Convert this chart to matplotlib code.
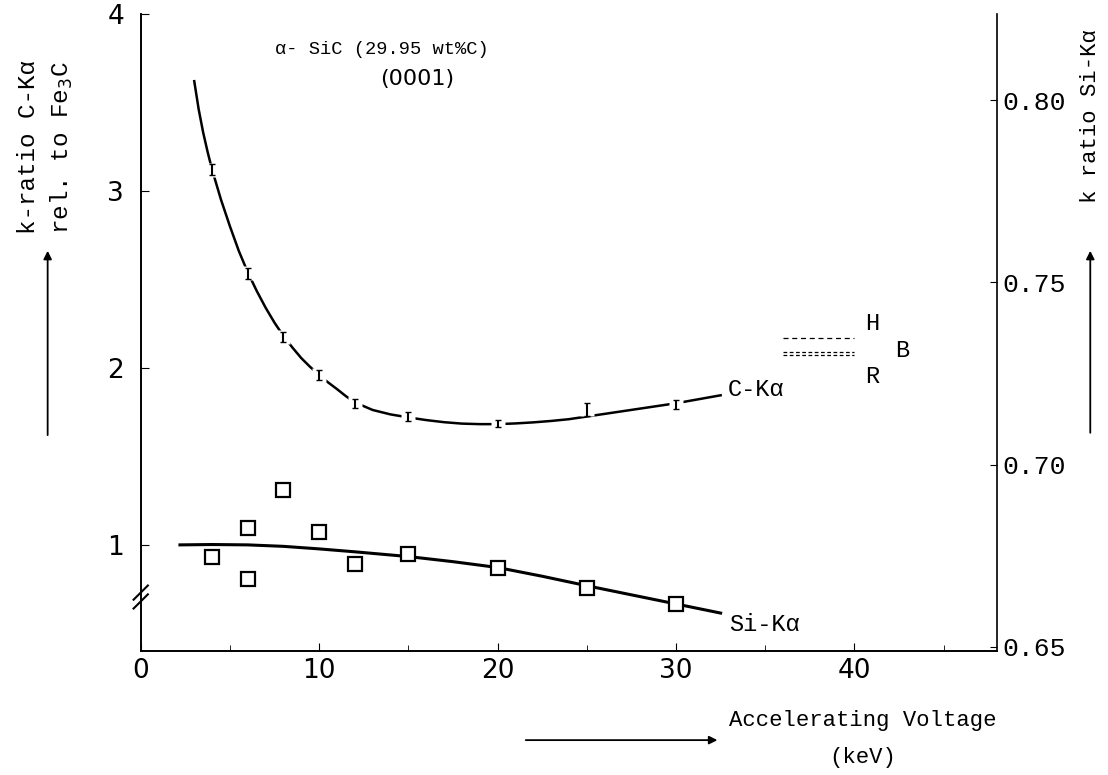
import matplotlib.pyplot as plt
import numpy as np

# C-K alpha k-ratio (left axis), measured points with error bars
c_kv = [4, 6, 8, 10, 12, 15, 20, 25, 30]
c_k = [3.12, 2.535, 2.175, 1.96, 1.80, 1.725, 1.685, 1.765, 1.795]
c_err = [0.03, 0.03, 0.03, 0.03, 0.025, 0.025, 0.02, 0.035, 0.025]

# drawn curve through C-K alpha
c_curve_kv = [3.0, 3.25, 3.5, 3.75, 4, 4.5, 5, 5.5, 6, 6.5, 7, 7.5, 8, 8.5, 9, 9.5, 10, 10.5, 11, 11.5,
              12, 13, 14, 15, 16, 17, 18, 19, 20, 21, 22, 23, 24, 25, 26, 27, 28, 29, 30, 31, 32, 32.5]
c_curve_k = [3.62, 3.46, 3.33, 3.22, 3.12, 2.95, 2.80, 2.66, 2.54, 2.435, 2.34, 2.255, 2.18, 2.115, 2.055,
             2.005, 1.96, 1.918, 1.88, 1.84, 1.805, 1.762, 1.737, 1.72, 1.705, 1.693, 1.685, 1.682, 1.682,
             1.686, 1.692, 1.70, 1.71, 1.725, 1.74, 1.755, 1.77, 1.785, 1.80, 1.818, 1.836, 1.845]

# Si-K alpha k-ratio (right axis)
si_kv = [4, 6, 6, 8, 10, 12, 15, 20, 25, 30]
si_k = [0.6747, 0.6826, 0.6686, 0.6930, 0.6815, 0.6728, 0.6755, 0.6717, 0.6662, 0.6618]
si_curve_kv = [2.2, 4, 6, 8, 10, 12, 15, 17.5, 20, 22.5, 25, 27.5, 30, 32.5]
si_curve_k = [0.6780, 0.6781, 0.6780, 0.6776, 0.6769, 0.6761, 0.6748, 0.6734, 0.6718, 0.6694, 0.6668,
              0.6643, 0.6618, 0.6593]

# H / R reference levels (left axis units)
hr_kv = [36, 40]
h_level = 2.17
r_levels = [2.09, 2.07]

mono = 'Liberation Mono'

fig = plt.figure(figsize=(11.08, 7.75), dpi=100)
ax = fig.add_axes([0.127, 0.16, 0.773, 0.822])
ax2 = ax.twinx()

ax.plot(c_curve_kv, c_curve_k, color='black', lw=1.8)
ax.plot(c_kv, c_k, 's', ms=10, mfc='white', mec='none', zorder=3)
ax.errorbar(c_kv, c_k, yerr=c_err, fmt='none', ecolor='black', elinewidth=1.5, capsize=2.5, zorder=4)

ax2.plot(si_curve_kv, si_curve_k, color='black', lw=2.2)
ax2.plot(si_kv, si_k, 's', ms=10, mfc='white', mec='black', mew=1.6, zorder=3)

for lv, ls in [(h_level, (0, (4, 3)))] + [(r, (0, (3, 2))) for r in r_levels]:
    ax.plot(hr_kv, [lv, lv], color='black', lw=0.9, ls=ls)

ax.set_xlim(0, 48)
ax.set_ylim(0.4, 4.0)
ax2.set_ylim(0.6489, 0.8236)

ax.set_xticks([0, 10, 20, 30, 40])
ax.set_xticks(np.arange(0, 48, 5), minor=True)
ax.set_yticks([1, 2, 3, 4])
ax.tick_params(axis='both', which='major', direction='in', length=6, labelsize=19)
ax.tick_params(axis='y', which='major', pad=12)
ax.tick_params(axis='x', which='major', pad=5)
ax.tick_params(axis='x', which='minor', direction='in', length=4)
ax2.set_yticks([0.65, 0.70, 0.75, 0.80])
ax2.set_yticklabels(['0.65', '0.70', '0.75', '0.80'], family=mono, fontsize=19)
ax2.tick_params(axis='y', direction='in', length=5, pad=4)

for a in (ax, ax2):
    a.spines['top'].set_visible(False)
ax.spines['right'].set_visible(False)
for a in (ax, ax2):
    for s in a.spines.values():
        s.set_linewidth(1.2)

# axis break marks
for yy in (0.68, 0.73):
    ax.plot([-0.4, 0.4], [yy - 0.04, yy + 0.04], color='black', lw=1.5, clip_on=False,
            transform=ax.transData)

ax.text(32.9, 1.88, 'C-K\u03b1', family=mono, fontsize=17, va='center')
ax.text(33.0, 0.55, 'Si-K\u03b1', family=mono, fontsize=17, va='center')
ax.text(40.6, 2.25, 'H', family=mono, fontsize=17, va='center')
ax.text(40.6, 1.95, 'R', family=mono, fontsize=17, va='center')
ax.text(42.3, 2.10, 'B', family=mono, fontsize=17, va='center')
ax.text(13.5, 3.80, '\u03b1- SiC (29.95 wt%C)', family=mono, fontsize=13.5, ha='center', va='center')
ax.text(15.5, 3.63, '(0001)', family='DejaVu Sans', fontsize=16, ha='center', va='center')

# outer labels
fig.text(0.026, 0.81, 'k-ratio C-K\u03b1', family=mono, fontsize=17.5, rotation=90, ha='center', va='center')
fig.text(0.056, 0.81, 'rel. to Fe$_3$C', family=mono, fontsize=17.5, rotation=90, ha='center', va='center')
fig.text(0.984, 0.85, 'k ratio Si-K\u03b1', family=mono, fontsize=16, rotation=90, ha='center', va='center')
fig.text(0.779, 0.07, 'Accelerating Voltage', family=mono, fontsize=16, ha='center', va='center')
fig.text(0.779, 0.023, '(keV)', family=mono, fontsize=16, ha='center', va='center')

arrow = dict(arrowstyle='-|>', color='black', lw=1.3, mutation_scale=12)
fig.add_artist(plt.Annotation('', xy=(0.043, 0.68), xytext=(0.043, 0.435),
                              xycoords='figure fraction', arrowprops=arrow))
fig.add_artist(plt.Annotation('', xy=(0.984, 0.68), xytext=(0.984, 0.438),
                              xycoords='figure fraction', arrowprops=arrow))
fig.add_artist(plt.Annotation('', xy=(0.650, 0.045), xytext=(0.472, 0.045),
                              xycoords='figure fraction', arrowprops=arrow))

fig.savefig('out.png', dpi=100)
